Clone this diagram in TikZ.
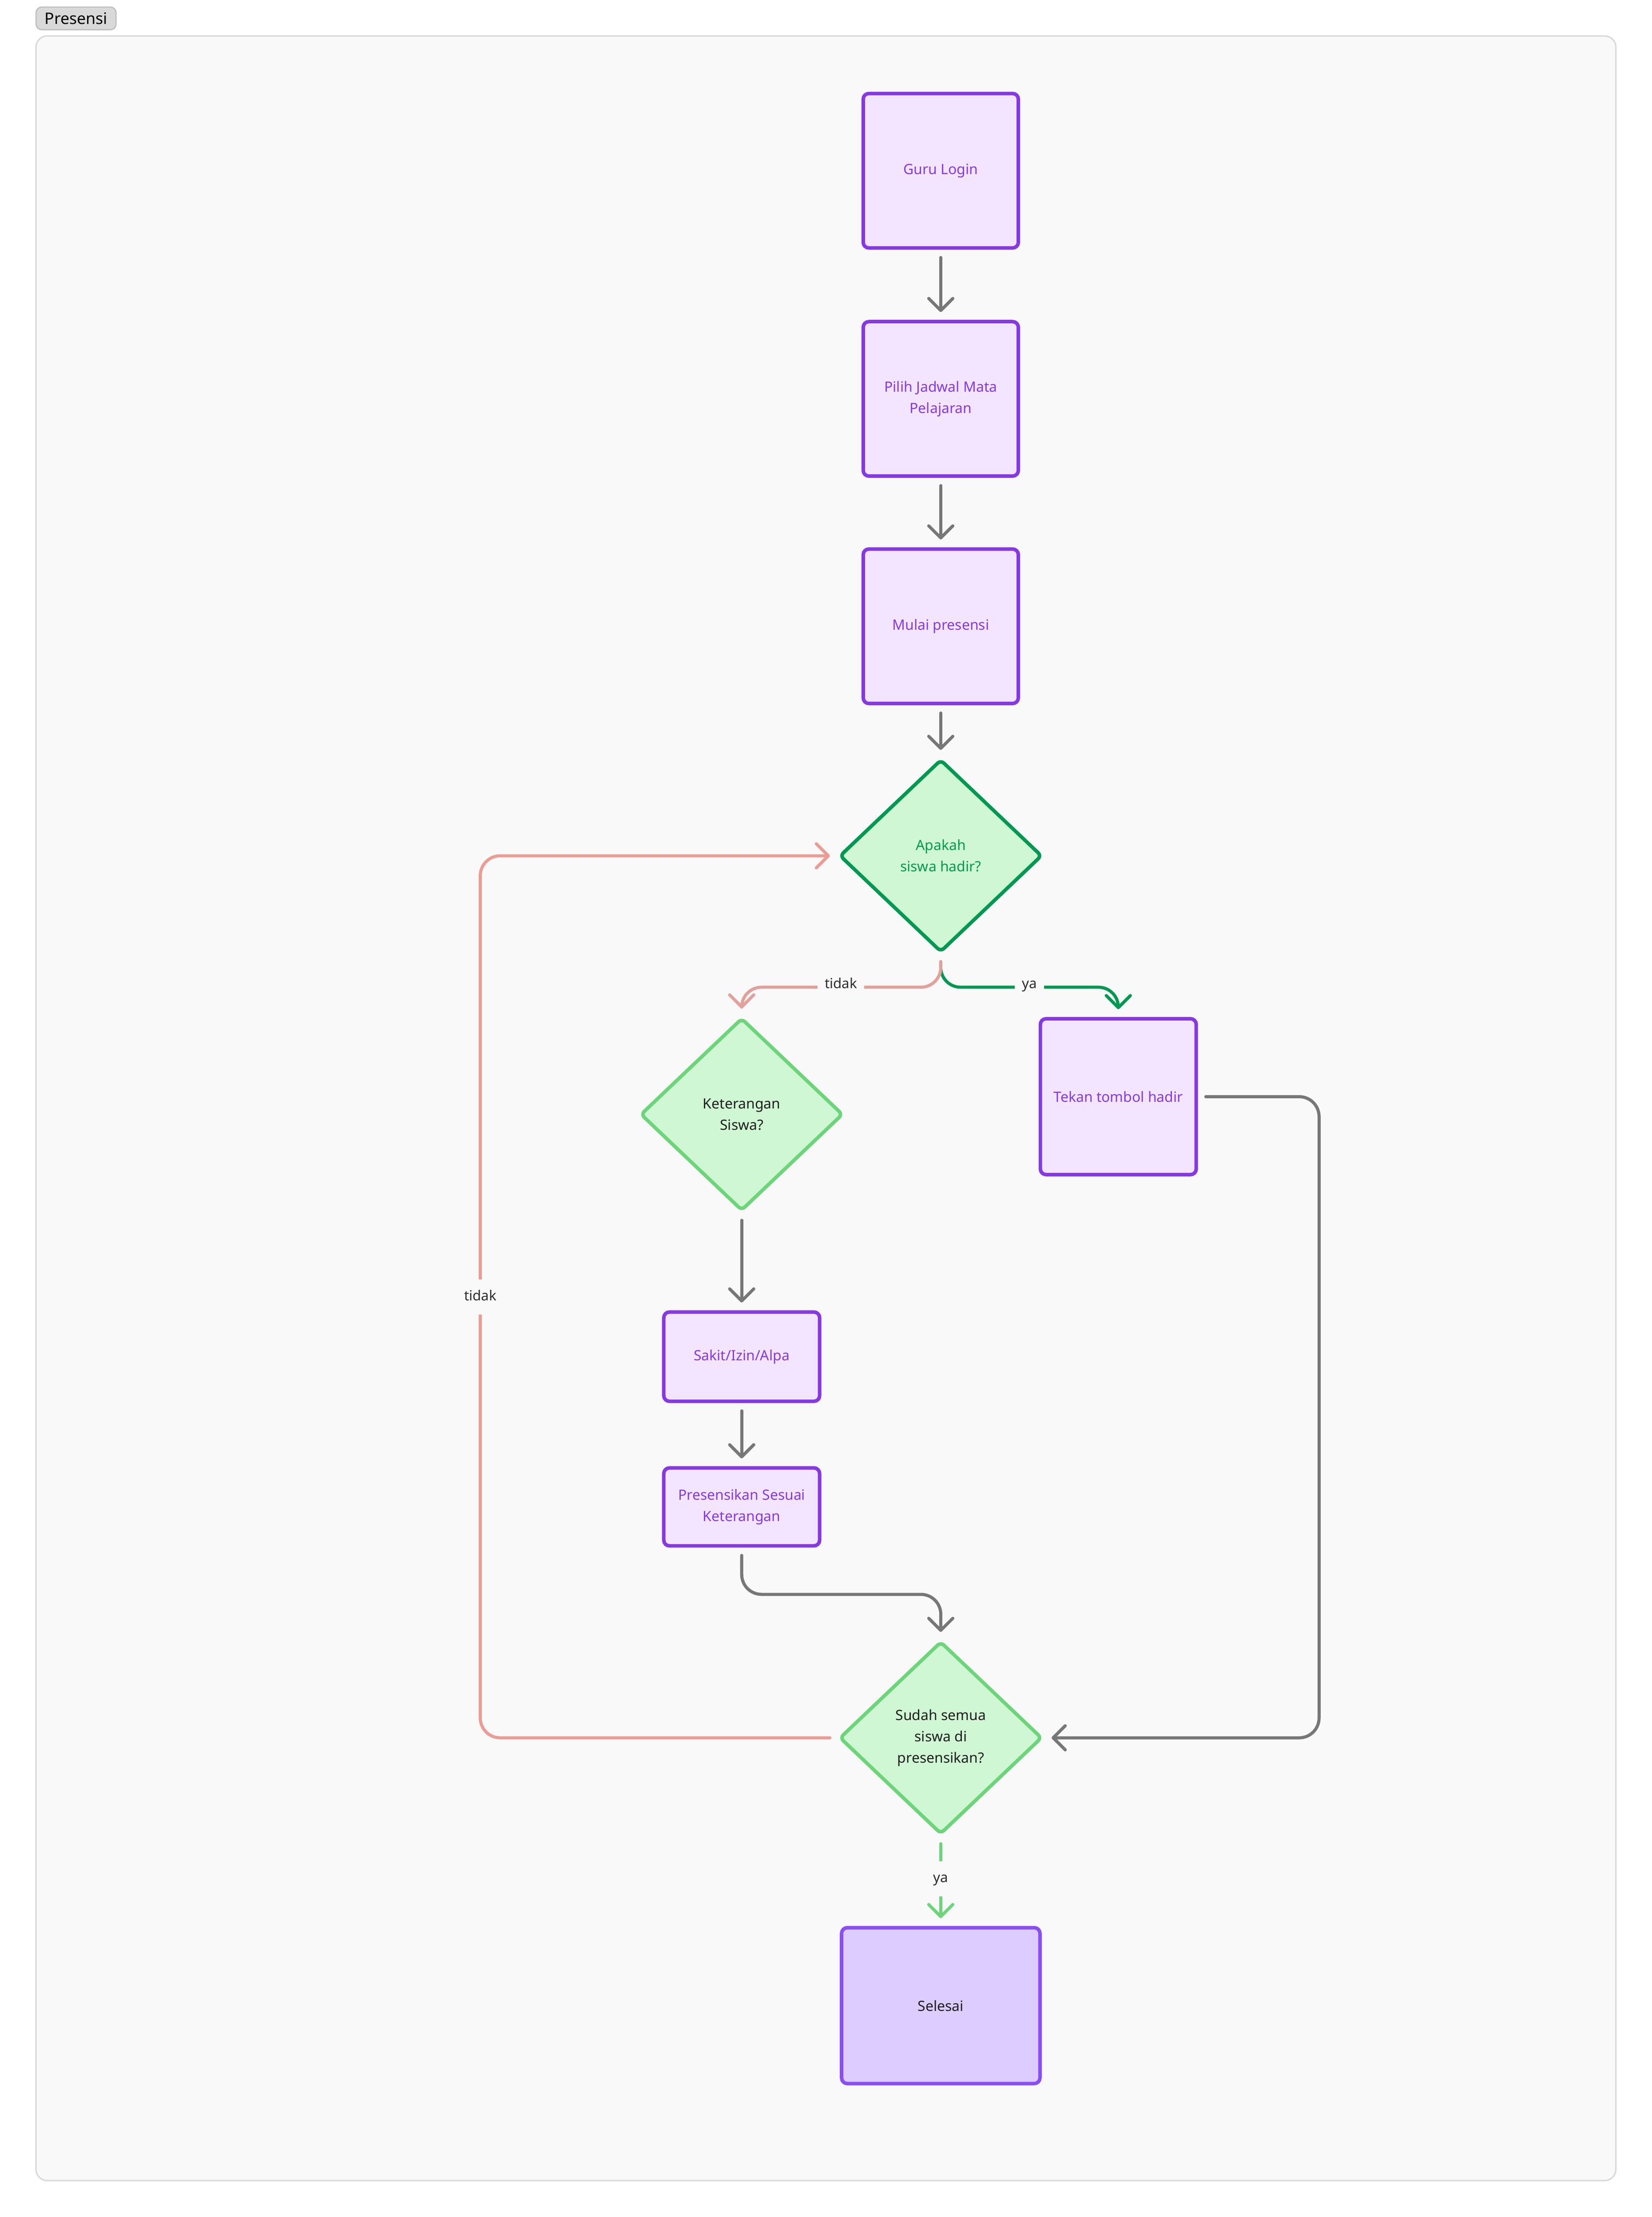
\documentclass[tikz,border=0pt]{standalone}
\usepackage{fontspec}
\setmainfont{Noto Sans}
\usetikzlibrary{arrows.meta,shapes.geometric,calc}
\definecolor{framebg}{HTML}{F9F9F9}
\definecolor{frameln}{HTML}{D9D9D9}
\definecolor{tagbg}{HTML}{D9D9D9}
\definecolor{tagln}{HTML}{BDBDBD}
\definecolor{purp}{HTML}{8638E5}
\definecolor{purpfill}{HTML}{F3E5FF}
\definecolor{endfill}{HTML}{DCCCFF}
\definecolor{endln}{HTML}{8A4EF7}
\definecolor{gfill}{HTML}{CFF7D3}
\definecolor{gdark}{HTML}{009951}
\definecolor{glight}{HTML}{6CD57A}
\definecolor{pinkA}{HTML}{E2A19B}
\definecolor{pinkB}{HTML}{EB9D95}
\definecolor{connc}{HTML}{777777}
\definecolor{txt}{HTML}{1E1E1E}
\definecolor{lbltxt}{HTML}{2C2C2C}
\newcommand{\nfont}{\fontsize{10}{15}\selectfont}
\newcommand{\lfont}{\fontsize{9.8}{12}\selectfont}
\tikzset{
  procbox/.style={rectangle, draw=purp, fill=purpfill, line width=2.5pt,
    rounded corners=4pt, inner sep=0pt, align=center, text=purp, font=\nfont},
  endbox/.style={procbox, draw=endln, fill=endfill, text=txt},
  decide/.style={diamond, draw=glight, fill=gfill, line width=2.5pt,
    rounded corners=3pt, inner sep=0pt, align=center, text=txt, font=\nfont,
    minimum width=143pt, minimum height=136pt},
  decidedark/.style={decide, draw=gdark, text=gdark},
  conn/.style={draw=connc, line width=2.2pt, line cap=round, line join=round,
    rounded corners=14pt, -{Straight Barb[length=8.5pt,width=17pt,round]},
    shorten <=5.5pt, shorten >=5.5pt},
  lbl/.style={fill=framebg, inner xsep=5pt, inner ysep=7.5pt, text height=7.5pt,
    text depth=2.2pt, font=\lfont, text=lbltxt},
  tagbox/.style={rectangle, draw=tagln, fill=tagbg, line width=0.8pt,
    rounded corners=4pt, inner sep=0pt, minimum width=56.5pt, minimum height=16pt,
    font=\fontsize{11.2}{13}\selectfont, text=black}
}
\begin{document}
\begin{tikzpicture}[x=1pt,y=-1pt]
\useasboundingbox (0,0) rectangle (1166,1564.7);
\fill[white] (0,0) rectangle (1166,1564.7);
% frame
\draw[frameln, fill=framebg, line width=1pt, rounded corners=8pt]
  (25.4,25.4) rectangle (1140.5,1539);
\node[tagbox] (title) at (53.7,13) {Presensi};

% nodes
\node[procbox, minimum width=109.5pt, minimum height=109pt] (guru) at (664,120.5) {Guru Login};
\node[procbox, minimum width=109.5pt, minimum height=109pt] (pilih) at (664,281.5) {Pilih Jadwal Mata\\Pelajaran};
\node[procbox, minimum width=109.5pt, minimum height=109pt] (mulai) at (664,442) {Mulai presensi};
\node[decidedark] (d1) at (664,604) {Apakah\\siswa hadir?};
\node[decide] (ket) at (523.5,786.5) {Keterangan\\Siswa?};
\node[procbox, minimum width=110pt, minimum height=110pt] (tekan) at (789.3,774) {Tekan tombol hadir};
\node[procbox, minimum width=110pt, minimum height=63pt] (sakit) at (523.5,957.5) {Sakit/Izin/Alpa};
\node[procbox, minimum width=110pt, minimum height=55pt] (pres) at (523.5,1063.5) {Presensikan Sesuai\\Keterangan};
\node[decide] (d2) at (664,1226.5) {Sudah semua\\siswa di\\presensikan?};
\node[endbox, minimum width=140pt, minimum height=110pt] (selesai) at (664,1415.5) {Selesai};

\coordinate (rc) at (931,1226.5);
\coordinate (lc) at (339,604);

% connectors
\draw[conn] (guru.south) -- (pilih.north);
\draw[conn] (pilih.south) -- (mulai.north);
\draw[conn] (mulai.south) -- (d1.north);
\draw[conn, draw=gdark] (d1.south) -- ++(0,23.5) -| (tekan.north);
\draw[conn, draw=pinkA] (d1.south) -- ++(0,23.5) -| (ket.north);
\draw[conn] (ket.south) -- (sakit.north);
\draw[conn] (sakit.south) -- (pres.north);
\draw[conn] (pres.south) -- ++(0,33) -| (d2.north);
\draw[conn] (tekan.east) -| (rc) -- (d2.east);
\draw[conn, draw=pinkB] (d2.west) -| (lc) -- (d1.west);
\draw[conn, draw=glight] (d2.south) -- (selesai.north);

% labels
\node[lbl] (l1) at (593.5,695) {tidak};
\node[lbl] (l2) at (726.5,695) {ya};
\node[lbl] (l3) at (339,915.4) {tidak};
\node[lbl] (l4) at (664,1326) {ya};
\end{tikzpicture}
\end{document}
